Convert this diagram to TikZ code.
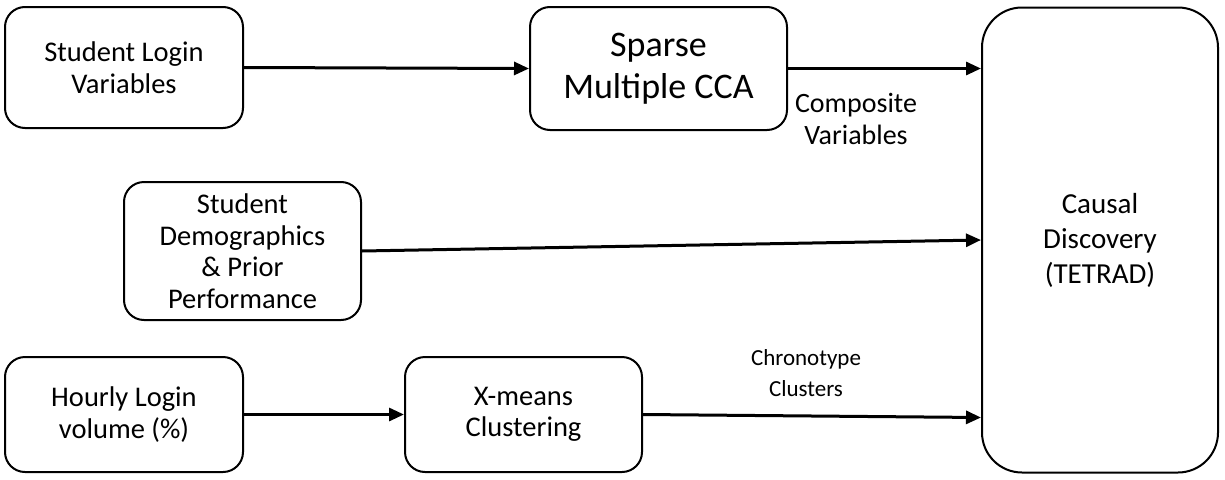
\documentclass[tikz,border=0pt]{standalone}
\usepackage{fontspec}
\setmainfont{Carlito}
\usetikzlibrary{arrows.meta}
\begin{document}
\begin{tikzpicture}[x=1pt,y=-1pt,
  box/.style={draw=black,line width=2pt,rounded corners=20pt,align=center,inner sep=0pt,
    font=\fontsize{28.5}{31.5}\selectfont},
  conn/.style={line width=3pt,-{Triangle[length=15pt,width=13pt]}},
  lbl/.style={align=center,inner sep=0pt,font=\fontsize{23}{31}\selectfont}]
\useasboundingbox (0,0) rectangle (1225,479);
\node[box,minimum width=238pt,minimum height=121pt] (login) at (124,67.5) {Student Login\\Variables};
\node[box,minimum width=257pt,minimum height=123pt,font=\fontsize{36}{42}\selectfont] (sparse) at (658.5,68.5) {Sparse\\Multiple CCA};
\node[box,minimum width=236pt,minimum height=465pt,rounded corners=40pt,font=\fontsize{29}{35}\selectfont] (causal) at (1100,240) {Causal\\Discovery\\(TETRAD)};
\node[box,minimum width=237pt,minimum height=138pt] (demo) at (242.5,251) {Student\\Demographics\\\& Prior\\Performance};
\node[box,minimum width=238pt,minimum height=115pt] (hourly) at (124,414.5) {Hourly Login\\volume (\%)};
\node[box,minimum width=237pt,minimum height=115pt] (xmeans) at (523.5,414.5) {X-means\\Clustering};
\node[lbl,font=\fontsize{28}{32}\selectfont] (comp) at (856,119) {Composite\\Variables};
\node[lbl] (chrono) at (806,373) {Chronotype\\Clusters};
\draw[conn] (login.east) -- (sparse.west);
\draw[conn] (sparse.east) -- (sparse.east -| causal.west);
\draw[conn] (demo.east) -- (causal.west);
\draw[conn] (xmeans.east) -- ([yshift=-3pt]xmeans.east -| causal.west);
\draw[conn] (hourly.east) -- (xmeans.west);
\end{tikzpicture}
\end{document}
